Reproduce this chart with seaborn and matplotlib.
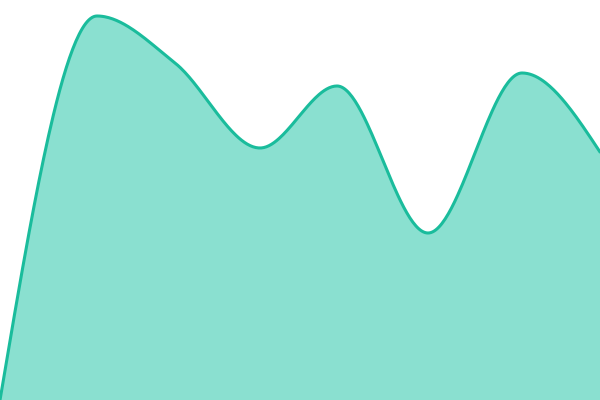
import numpy as np
import pandas as pd
import matplotlib
matplotlib.use("Agg")
import matplotlib.pyplot as plt
import seaborn as sns

# data (x position, value)
x_pos  = [0, 97, 175, 260, 337, 428, 522, 600]
values = [0, 384, 337, 252, 314, 167, 327, 248]

LINE_COLOR = "#1abc9c"
FILL_COLOR = "#8ae0d0"


def monotone_curve(x, y, steps=60):
    # monotone cubic (like d3.curveMonotoneX) for smooth drawing
    x = np.asarray(x, float)
    y = np.asarray(y, float)
    h = np.diff(x)
    s = np.diff(y) / h
    n = len(x)
    t = np.zeros(n)
    for i in range(1, n - 1):
        s0, s1 = s[i - 1], s[i]
        p = (s0 * h[i] + s1 * h[i - 1]) / (h[i - 1] + h[i])
        t[i] = (np.sign(s0) + np.sign(s1)) * min(abs(s0), abs(s1), 0.5 * abs(p))
    t[0] = (3 * s[0] - t[1]) / 2
    t[-1] = (3 * s[-1] - t[-2]) / 2

    xs, ys = [], []
    for i in range(n - 1):
        u = np.linspace(0, 1, steps, endpoint=(i == n - 2))
        h00 = 2 * u**3 - 3 * u**2 + 1
        h10 = u**3 - 2 * u**2 + u
        h01 = -2 * u**3 + 3 * u**2
        h11 = u**3 - u**2
        xs.append(x[i] + u * h[i])
        ys.append(h00 * y[i] + h10 * h[i] * t[i] + h01 * y[i + 1] + h11 * h[i] * t[i + 1])
    return np.concatenate(xs), np.concatenate(ys)


cx, cy = monotone_curve(x_pos, values)
df = pd.DataFrame({"x": cx, "y": cy})

sns.set_style("white")
fig = plt.figure(figsize=(6, 4), dpi=100)
ax = fig.add_axes([0, 0, 1, 1])

ax.fill_between(df["x"], 0, df["y"], color=FILL_COLOR, linewidth=0)
sns.lineplot(data=df, x="x", y="y", ax=ax, color=LINE_COLOR,
             linewidth=2.2, sort=False, estimator=None)

ax.set_xlim(0, 600)
ax.set_ylim(0, 400)
ax.axis("off")

fig.savefig("out.png", dpi=100)
plt.close(fig)
